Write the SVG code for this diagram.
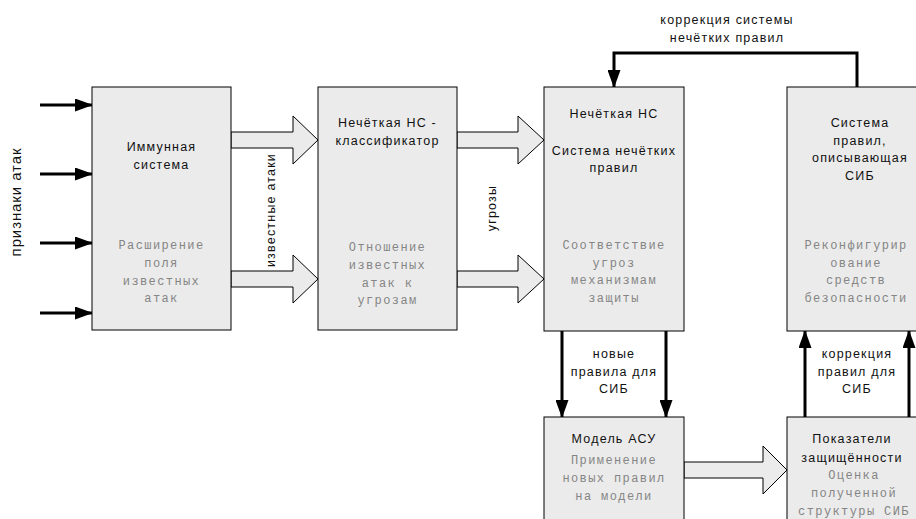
<svg xmlns="http://www.w3.org/2000/svg" width="916" height="519" viewBox="0 0 916 519">
<style>
.box{fill:#ebebeb;stroke:#000;stroke-width:1}
.t{font-family:"Liberation Sans",Arial,sans-serif;font-size:12.5px;letter-spacing:1.2px;fill:#111;text-anchor:middle}
.m{font-family:"Liberation Mono","Courier New",monospace;font-size:12px;letter-spacing:1.4px;fill:#858585;text-anchor:middle}
.big{fill:#ebebeb;stroke:#000;stroke-width:1}
.ln{fill:none;stroke:#000;stroke-width:3}
</style>
<defs>
<marker id="ah" markerUnits="userSpaceOnUse" markerWidth="18" markerHeight="13" refX="17" refY="6.5" orient="auto">
<path d="M0,0 L18,6.5 L0,13 z" fill="#000"/>
</marker>
</defs>
<rect width="916" height="519" fill="#fff"/>

<g id="connectors">
<path class="ln" d="M40,105 H92" marker-end="url(#ah)"/>
<path class="ln" d="M40,174 H92" marker-end="url(#ah)"/>
<path class="ln" d="M40,243 H92" marker-end="url(#ah)"/>
<path class="ln" d="M40,313 H92" marker-end="url(#ah)"/>
<polygon class="big" points="231,132 293,132 293,116 318,140 293,164 293,148 231,148"/>
<polygon class="big" points="231,271 293,271 293,255 318,279 293,303 293,287 231,287"/>
<polygon class="big" points="457,132 518,132 518,116 544,140 518,164 518,148 457,148"/>
<polygon class="big" points="457,271 518,271 518,255 544,279 518,303 518,287 457,287"/>
<polygon class="big" points="684,462 763,462 763,446 787,470 763,494 763,478 684,478"/>
<path class="ln" d="M857,87 V53 H614 V87" marker-end="url(#ah)"/>
<path class="ln" d="M562,331 V417" marker-end="url(#ah)"/>
<path class="ln" d="M666,331 V417" marker-end="url(#ah)"/>
<path class="ln" d="M805,417 V331" marker-end="url(#ah)"/>
<path class="ln" d="M909,417 V331" marker-end="url(#ah)"/>
<text class="t" x="727" y="24">коррекция системы</text>
<text class="t" x="727" y="42">нечётких правил</text>
<text class="t" x="614" y="358">новые</text>
<text class="t" x="614" y="375.5">правила для</text>
<text class="t" x="614" y="393">СИБ</text>
<text class="t" x="857" y="358">коррекция</text>
<text class="t" x="857" y="375.5">правил для</text>
<text class="t" x="857" y="393">СИБ</text>
<text class="t" x="21" y="202" transform="rotate(-90 21 202)" style="font-size:15px;letter-spacing:0.9px">признаки атак</text>
<text class="t" x="275" y="210" transform="rotate(-90 275 210)">известные атаки</text>
<text class="t" x="496" y="208" transform="rotate(-90 496 208)">угрозы</text>
</g>

<g id="immune">
<rect class="box" x="92" y="87" width="139" height="243"/>
<text class="t" x="161.5" y="151">Иммунная</text>
<text class="t" x="161.5" y="169">система</text>
<text class="m" x="161.5" y="249">Расширение</text>
<text class="m" x="161.5" y="267">поля</text>
<text class="m" x="161.5" y="285">известных</text>
<text class="m" x="161.5" y="302">атак</text>
</g>

<g id="classifier">
<rect class="box" x="318" y="87" width="139" height="243"/>
<text class="t" x="387.5" y="127">Нечёткая НС -</text>
<text class="t" x="387.5" y="145">классификатор</text>
<text class="m" x="387.5" y="251">Отношение</text>
<text class="m" x="387.5" y="269">известных</text>
<text class="m" x="387.5" y="287">атак к</text>
<text class="m" x="387.5" y="304">угрозам</text>
</g>

<g id="fuzzy">
<rect class="box" x="544" y="87" width="140" height="244"/>
<text class="t" x="614" y="117.5">Нечёткая НС</text>
<text class="t" x="614" y="154.5">Система нечётких</text>
<text class="t" x="614" y="171.5">правил</text>
<text class="m" x="614" y="249">Соответствие</text>
<text class="m" x="614" y="267">угроз</text>
<text class="m" x="614" y="284">механизмам</text>
<text class="m" x="614" y="302">защиты</text>
</g>

<g id="rules">
<rect class="box" x="787" y="87" width="150" height="244"/>
<text class="t" x="860" y="127">Система</text>
<text class="t" x="860" y="145">правил,</text>
<text class="t" x="860" y="162">описывающая</text>
<text class="t" x="860" y="180">СИБ</text>
<text class="m" x="856" y="249">Реконфигурир</text>
<text class="m" x="856" y="267">ование</text>
<text class="m" x="856" y="284">средств</text>
<text class="m" x="856" y="302">безопасности</text>
</g>

<g id="model">
<rect class="box" x="544" y="417" width="140" height="110"/>
<text class="t" x="614" y="442.5">Модель АСУ</text>
<text class="m" x="614" y="464">Применение</text>
<text class="m" x="614" y="482">новых правил</text>
<text class="m" x="614" y="500">на модели</text>
</g>

<g id="metrics">
<rect class="box" x="787" y="417" width="150" height="110"/>
<text class="t" x="852" y="442.5">Показатели</text>
<text class="t" x="852" y="461.5">защищённости</text>
<text class="m" x="854" y="479">Оценка</text>
<text class="m" x="854" y="497">полученной</text>
<text class="m" x="854" y="515">структуры СИБ</text>
</g>
</svg>
